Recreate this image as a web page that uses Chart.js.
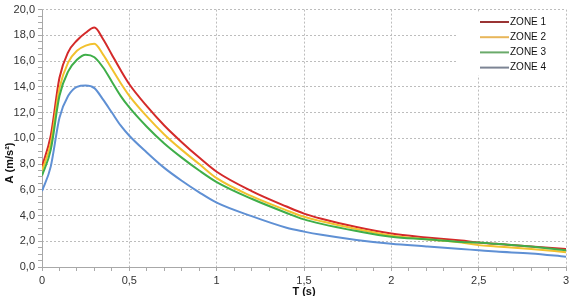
<!DOCTYPE html>
<html><head><meta charset="utf-8">
<script src="https://cdn.jsdelivr.net/npm/chart.js@4/dist/chart.umd.min.js"></script>
<style>html,body{margin:0;padding:0;background:#fff}#wrap{width:573px;height:296px;position:relative}</style>
</head><body><div id="wrap"><canvas id="c"></canvas></div>
<script>
const periods = [0,0.05,0.1,0.15,0.2,0.25,0.3,0.35,0.4,0.45,0.5,0.6,0.7,0.8,0.9,1.0,1.2,1.4,1.5,1.6,1.8,2.0,2.2,2.4,2.5,2.6,2.8,3.0];
const zone1 = [7.8,10.2,14.7,16.7,17.6,18.2,18.6,17.7,16.5,15.3,14.2,12.5,11.0,9.7,8.5,7.4,5.9,4.7,4.15,3.75,3.1,2.6,2.3,2.05,1.9,1.8,1.6,1.4];
const zone2 = [7.5,9.6,13.9,15.9,16.8,17.2,17.35,16.5,15.4,14.3,13.3,11.7,10.3,9.1,8.0,6.9,5.5,4.4,3.9,3.55,2.95,2.45,2.15,1.9,1.7,1.6,1.4,1.15];
const zone3 = [7.1,9.1,13.3,15.2,16.1,16.5,16.3,15.5,14.4,13.3,12.4,10.9,9.6,8.5,7.5,6.6,5.3,4.2,3.7,3.35,2.8,2.35,2.15,1.95,1.9,1.8,1.6,1.3];
const zone4 = [5.9,7.8,11.6,13.3,14.0,14.1,13.9,13.0,12.0,11.0,10.2,8.9,7.7,6.7,5.8,5.0,3.95,3.05,2.75,2.5,2.1,1.8,1.6,1.4,1.3,1.2,1.05,0.8];
const seriesNames = ['ZONE 1','ZONE 2','ZONE 3','ZONE 4'];
const xTitle = 'T (s)';
const yTitle = 'A (m/s²)';

const colors = ['#d42a2a','#f2c12e','#3fae49','#5f90d4'];
const legendColors = ['#9a3434','#e8b65a','#6aaa6a','#7c8494'];
const allSeries = [zone1, zone2, zone3, zone4];

const datasets = allSeries.map((s, i) => ({
  label: seriesNames[i],
  data: periods.map((p, j) => ({x: p, y: s[j]})),
  borderColor: colors[i],
  backgroundColor: colors[i],
  borderWidth: 2,
  pointRadius: 0,
  cubicInterpolationMode: 'monotone',
  fill: false
})).reverse();

const near = (v, step) => Math.abs(v / step - Math.round(v / step)) < 1e-6;
const fmt = v => String(v).replace('.', ',');

const overlay = {
  id: 'overlay',
  beforeDatasetsDraw(chart) {
    const ctx = chart.ctx;
    const ca = chart.chartArea;
    ctx.save();
    ctx.strokeStyle = '#a8a8a8';
    ctx.lineWidth = 1;
    ctx.beginPath();
    ctx.moveTo(Math.round(ca.left) + 0.5, ca.top);
    ctx.lineTo(Math.round(ca.left) + 0.5, Math.round(ca.bottom) + 0.5);
    ctx.lineTo(ca.right, Math.round(ca.bottom) + 0.5);
    ctx.stroke();
    ctx.restore();
  },
  afterDatasetsDraw(chart) {
    const ctx = chart.ctx;
    const ca = chart.chartArea;
    ctx.save();
    ctx.fillStyle = '#fff';
    ctx.fillRect(456, ca.top + 2, ca.right - 456 - 1, 64);
    ctx.font = '10px Arial, "Liberation Sans", sans-serif';
    ctx.textBaseline = 'middle';
    ctx.fillStyle = '#111';
    seriesNames.forEach((n, i) => {
      const y = 22 + i * 15.2;
      ctx.strokeStyle = legendColors[i];
      ctx.lineWidth = 2;
      ctx.beginPath(); ctx.moveTo(480, y); ctx.lineTo(509, y); ctx.stroke();
      ctx.fillText(n, 510, y);
    });
    ctx.font = 'bold 11px Arial, "Liberation Sans", sans-serif';
    ctx.fillStyle = '#111';
    ctx.textAlign = 'center';
    ctx.textBaseline = 'top';
    ctx.fillText(xTitle, 304, 286);
    ctx.translate(10, 163);
    ctx.rotate(-Math.PI / 2);
    ctx.textBaseline = 'middle';
    ctx.fillText(yTitle, 0, 0);
    ctx.restore();
  }
};

new Chart(document.getElementById('c'), {
  type: 'line',
  data: { datasets },
  options: {
    responsive: true,
    maintainAspectRatio: false,
    animation: false,
    layout: { padding: { left: 0, right: 7, top: 4, bottom: 0 } },
    plugins: { legend: { display: false }, tooltip: { enabled: false } },
    scales: {
      x: {
        type: 'linear', min: 0, max: 3,
        afterFit(s) { s.height = 29; },
        ticks: {
          stepSize: 0.1, autoSkip: false, maxRotation: 0, padding: 3,
          color: '#333', font: { size: 11, family: 'Arial, "Liberation Sans", sans-serif' },
          callback: v => near(v, 0.5) ? fmt(Math.round(v * 10) / 10) : ''
        },
        grid: {
          color: c => near(c.tick.value, 0.5) && c.tick.value > 0.01 ? '#bdbdbd' : 'rgba(0,0,0,0)',
          tickColor: '#aaa', tickLength: 4, lineWidth: 1, drawOnChartArea: true
        },
        border: { display: false, dash: [2, 2] }
      },
      y: {
        min: 0, max: 20,
        afterFit(s) { s.width = 42; },
        ticks: {
          stepSize: 0.5, autoSkip: false, padding: 3,
          color: '#333', font: { size: 11, family: 'Arial, "Liberation Sans", sans-serif' },
          callback: v => near(v, 2) ? v.toFixed(1).replace('.', ',') : ''
        },
        grid: {
          color: c => near(c.tick.value, 2) && c.tick.value > 0.01 ? '#bdbdbd' : 'rgba(0,0,0,0)',
          tickColor: '#aaa', tickLength: 4, lineWidth: 1
        },
        border: { display: false, dash: [2, 2] }
      }
    }
  },
  plugins: [overlay]
});
</script></body></html>
